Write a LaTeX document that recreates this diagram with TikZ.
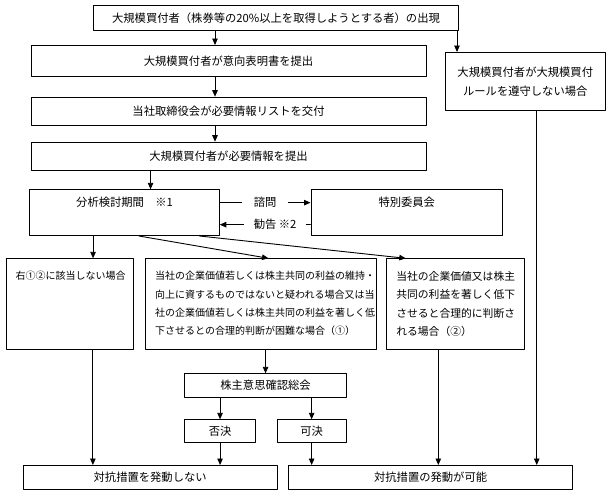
\documentclass[tikz,border=0pt]{standalone}
\usepackage{fontspec}
\newfontfamily\jp{Noto Sans CJK JP}
\usetikzlibrary{arrows.meta}
\begin{document}
\begin{tikzpicture}[line cap=round,line join=round,>={Triangle[length=6.5pt,width=5.5pt]},x=1pt,y=-1pt,
		box/.style={draw,line width=1pt,anchor=north west,inner sep=0pt,font=\jp\fontsize{11.3}{14}\selectfont},
		head/.style={inner sep=0pt,anchor=north,yshift=-7.5pt,font=\jp\fontsize{11.3}{14}\selectfont},
		body/.style={inner sep=0pt,anchor=north west,align=left,font=\jp\fontsize{10}{18.3}\selectfont},
		link/.style={->,line width=0.9pt}]
	\useasboundingbox (0,0) rectangle (611,496);
	\node[box,minimum width=365pt,minimum height=24.5pt] (appear) at (93,5) {大規模買付者（株券等の20\%以上を取得しようとする者）の出現};
	\node[box,minimum width=395pt,minimum height=31pt] (intent) at (30.5,45) {大規模買付者が意向表明書を提出};
	\node[box,minimum width=395pt,minimum height=28.3pt] (list) at (30.5,96.7) {当社取締役会が必要情報リストを交付};
	\node[box,minimum width=395pt,minimum height=28.3pt] (info) at (30.5,141.7) {大規模買付者が必要情報を提出};
	\node[box,minimum width=160.5pt,minimum height=58pt,align=center,font=\jp\fontsize{11.3}{18.5}\selectfont] (rule) at (444.5,52) {大規模買付者が大規模買付\\ルールを遵守しない場合};
	\node[box,minimum width=189.5pt,minimum height=45.7pt,label={[head]north:分析検討期間　※1}] (analysis) at (29.3,189.3) {};
	\node[box,minimum width=191.5pt,minimum height=45.7pt,label={[head]north:特別委員会}] (committee) at (310.5,189.3) {};
	\node[box,minimum width=127.7pt,minimum height=91pt,label={[body,xshift=10pt,yshift=-13pt]north west:右①②に該当しない場合}] (none) at (5.5,258.3) {};
	\node[box,minimum width=230.5pt,minimum height=91pt,label={[body,xshift=9.7pt,yshift=-13pt]north west:当社の企業価値若しくは株主共同の利益の維持・\\向上に資するものではないと疑われる場合又は当\\社の企業価値若しくは株主共同の利益を著しく低\\下させるとの合理的判断が困難な場合（①）}] (doubt) at (145.3,258.3) {};
	\node[box,minimum width=138pt,minimum height=91pt,label={[body,xshift=9.8pt,yshift=-13pt,font=\jp\fontsize{10.8}{18.3}\selectfont]north west:当社の企業価値又は株主\\共同の利益を著しく低下\\させると合理的に判断さ\\れる場合（②）}] (harm) at (386.3,258.3) {};
	\node[box,minimum width=161.3pt,minimum height=23.4pt] (meeting) at (184.4,373.3) {株主意思確認総会};
	\node[box,minimum width=70.3pt,minimum height=23pt] (reject) at (184.4,419.3) {否決};
	\node[box,minimum width=69.1pt,minimum height=23pt] (approve) at (276.6,419.3) {可決};
	\node[box,minimum width=253.9pt,minimum height=24.3pt] (nostart) at (22.7,465) {対抗措置を発動しない};
	\node[box,minimum width=284.4pt,minimum height=24.3pt] (possible) at (287.9,465) {対抗措置の発動が可能};
	\coordinate (spine) at (215,0);
	\draw[link] (appear.south -| spine) -- (intent.north -| spine);
	\draw[link] ([xshift=-2pt]appear.south east) -- ([xshift=-2pt]appear.south east |- rule.north);
	\draw[link] (intent.south -| spine) -- (list.north -| spine);
	\draw[link] (list.south -| spine) -- (info.north -| spine);
	\draw[link] ([xshift=26pt]analysis.north |- info.south) -- ([xshift=26pt]analysis.north);
	\draw[link] ([yshift=10pt]analysis.east) -- node[fill=white,inner xsep=12pt,inner ysep=1pt,font=\jp\fontsize{11.3}{14}\selectfont] {諮問} ([yshift=10pt]committee.west);
	\draw[link] ([yshift=-12pt]committee.west) -- node[pos=0.39,fill=white,inner xsep=10pt,inner ysep=1pt,font=\jp\fontsize{11.3}{14}\selectfont] {勧告 ※2} ([yshift=-12pt]analysis.east);
	\draw[link] ([xshift=-31.5pt]analysis.south) -- ([xshift=-31.5pt]analysis.south |- none.north);
	\draw[link] ([xshift=14.5pt]analysis.south) -- ([xshift=7.5pt]doubt.north);
	\draw[link] ([xshift=75pt]analysis.south) -- ([xshift=-50pt]harm.north);
	\draw[link] (doubt.south -| meeting.north) -- (meeting.north);
	\draw[link] (meeting.south -| reject.north) -- (reject.north);
	\draw[link] (meeting.south -| approve.north) -- (approve.north);
	\draw[link] ([xshift=23pt]none.south) -- ([xshift=23pt]none.south |- nostart.north);
	\draw[link] (reject.south) -- (reject.south |- nostart.north);
	\draw[link] (approve.south) -- (approve.south |- possible.north);
	\draw[link] ([xshift=-17.5pt]harm.south) -- ([xshift=-17.5pt]harm.south |- possible.north);
	\draw[link] ([xshift=11.5pt]rule.south) -- ([xshift=11.5pt]rule.south |- possible.north);
\end{tikzpicture}
\end{document}
